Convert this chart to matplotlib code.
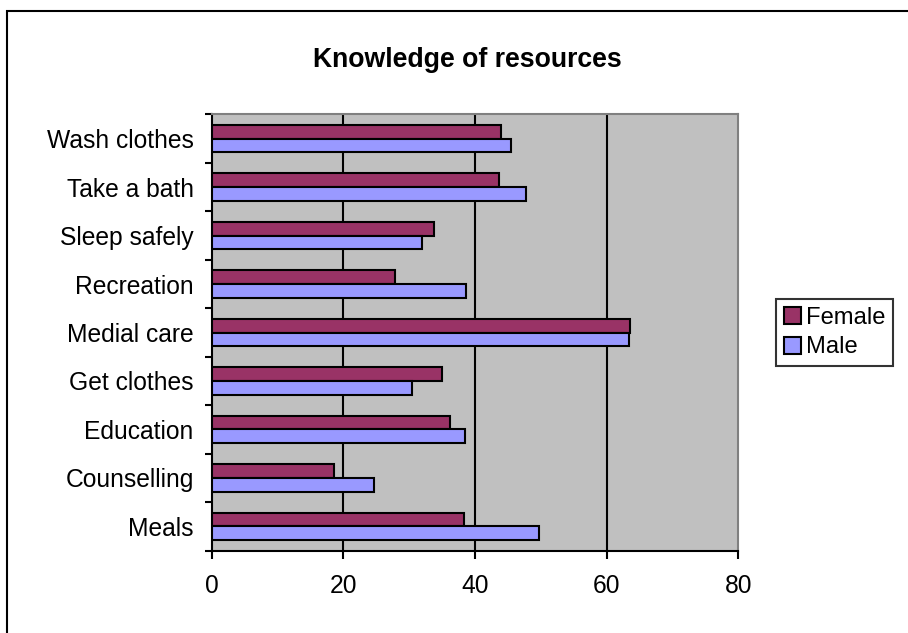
import matplotlib
matplotlib.use("Agg")
import matplotlib.pyplot as plt
import numpy as np
from matplotlib.patches import Rectangle, Patch

plt.rcParams["font.family"] = ["Liberation Sans", "DejaVu Sans"]

# Categories listed bottom to top
categories = ["Meals", "Counselling", "Education", "Get clothes", "Medial care",
              "Recreation", "Sleep safely", "Take a bath", "Wash clothes"]
female = [38.4, 18.6, 36.2, 35.0, 63.5, 27.9, 33.7, 43.6, 44.0]
male = [49.7, 24.6, 38.5, 30.5, 63.4, 38.6, 31.9, 47.7, 45.4]
x_ticks = [0, 20, 40, 60, 80]

W, H = 908, 633
fig = plt.figure(figsize=(W / 100, H / 100), dpi=100)

# outer chart frame
fig.patches.append(Rectangle((7 / W, -0.1), 1.2, 1.1 - 11 / H, transform=fig.transFigure,
                             fill=False, edgecolor="black", linewidth=1.5, zorder=0))

ax = fig.add_axes([211.7 / W, 1 - 550.7 / H, 526.6 / W, (550.7 - 114.3) / H])
ax.set_facecolor("#C0C0C0")

y = np.arange(len(categories))
h = 0.283
ax.barh(y + h / 2, female, height=h, color="#993366", edgecolor="black",
        linewidth=1.5, zorder=3, label="Female")
ax.barh(y - h / 2, male, height=h, color="#9999FF", edgecolor="black",
        linewidth=1.5, zorder=3, label="Male")

ax.set_xlim(0, 80)
ax.set_ylim(-0.5, len(categories) - 0.5)
ax.set_xticks(x_ticks)
ax.set_xticklabels([str(v) for v in x_ticks])
for v in x_ticks[1:-1]:
    ax.axvline(v, color="black", linewidth=1.5, zorder=1)

ax.set_yticks(y)
ax.set_yticklabels(categories)
ax.set_yticks(np.arange(len(categories) + 1) - 0.5, minor=True)
ax.tick_params(axis="y", which="major", length=0, pad=13, labelsize=17.7)
ax.tick_params(axis="y", which="minor", length=5, width=1.5, direction="out")
ax.tick_params(axis="x", which="major", length=6, width=1.5, direction="out",
               pad=11, labelsize=17.7)

for s in ["left", "bottom"]:
    ax.spines[s].set_color("black")
    ax.spines[s].set_linewidth(1.5)
for s in ["top", "right"]:
    ax.spines[s].set_color("#808080")
    ax.spines[s].set_linewidth(1.5)

fig.text(467.5 / W, 1 - 60 / H, "Knowledge of resources", ha="center", va="center",
         fontsize=19.2, fontweight="bold")

handles = [Patch(facecolor="#993366", edgecolor="black", linewidth=1.5),
           Patch(facecolor="#9999FF", edgecolor="black", linewidth=1.5)]
leg = fig.legend(handles, ["Female", "Male"], loc="center left",
                 bbox_to_anchor=(776 / W, 1 - 332.5 / H), fontsize=17.1,
                 frameon=True, fancybox=False, shadow=False,
                 handlelength=0.72, handleheight=0.72, handletextpad=0.2,
                 borderpad=0.33, labelspacing=0.33, borderaxespad=0)
leg.get_frame().set_edgecolor("black")
leg.get_frame().set_linewidth(1.5)

fig.savefig("out.png", dpi=100)
